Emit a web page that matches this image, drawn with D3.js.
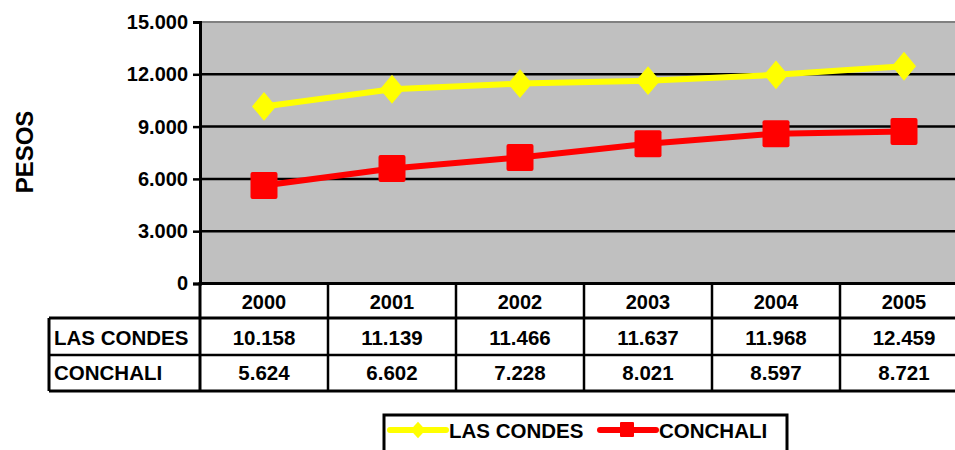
<!DOCTYPE html>
<html>
<head>
<meta charset="utf-8">
<script src="https://cdn.jsdelivr.net/npm/d3@7"></script>
<style>
  body { margin: 0; background: #fff; overflow: hidden; }
  text { font-family: Arial, "Liberation Sans", sans-serif; font-weight: bold; fill: #000; }
</style>
</head>
<body>
<div id="chart"></div>
<script>
// data
var years = ["2000", "2001", "2002", "2003", "2004", "2005"];
var lasCondes = [10158, 11139, 11466, 11637, 11968, 12459];
var conchali = [5624, 6602, 7228, 8021, 8597, 8721];
var seriesNames = ["LAS CONDES", "CONCHALI"];
var yTicks = [0, 3000, 6000, 9000, 12000, 15000];

var width = 955, height = 450;
var plotLeft = 200, plotRight = 968, plotTop = 22, plotBottom = 283.5;

var es = d3.formatLocale({decimal: ",", thousands: ".", grouping: [3], currency: ["$", ""]});
var fmt = es.format(",d");

var svg = d3.select("#chart").append("svg")
    .attr("width", width)
    .attr("height", height);

var x = d3.scaleBand().domain(years).range([plotLeft, plotRight]).padding(0);
var y = d3.scaleLinear().domain([0, 15000]).range([plotBottom, plotTop]);

// plot background
svg.append("rect")
    .attr("x", plotLeft).attr("y", plotTop)
    .attr("width", plotRight - plotLeft).attr("height", plotBottom - plotTop)
    .style("fill", "#c0c0c0")
    .style("stroke", "#808080")
    .style("stroke-width", 2);

// gridlines
svg.selectAll(".grid")
  .data(yTicks.filter(function(d) { return d > 0 && d < 15000; }))
  .enter().append("line")
    .attr("x1", plotLeft).attr("x2", plotRight)
    .attr("y1", function(d) { return y(d); })
    .attr("y2", function(d) { return y(d); })
    .style("stroke", "#000")
    .style("stroke-width", 2.5);

// y axis
var yAxis = svg.append("g")
    .attr("transform", "translate(" + plotLeft + ",0)")
    .call(d3.axisLeft(y).tickValues(yTicks).tickFormat(fmt).tickSize(7).tickPadding(5));
yAxis.select(".domain").style("stroke", "#000").style("stroke-width", 3);
yAxis.selectAll(".tick line").style("stroke", "#000").style("stroke-width", 2.5);
yAxis.selectAll(".tick text")
    .style("font-size", "20px")
    .style("font-family", "Arial, 'Liberation Sans', sans-serif")
    .style("font-weight", "bold")
    .attr("fill", "#000");

// y axis title
svg.append("text")
    .attr("transform", "translate(33,152) rotate(-90)")
    .attr("text-anchor", "middle")
    .style("font-size", "24px")
    .text("PESOS");

// lines
var line = d3.line()
    .x(function(d, i) { return x(years[i]) + x.bandwidth() / 2; })
    .y(function(d) { return y(d); });

svg.append("path")
    .datum(lasCondes)
    .attr("d", line)
    .style("fill", "none")
    .style("stroke", "#ffff00")
    .style("stroke-width", 6);

svg.append("path")
    .datum(conchali)
    .attr("d", line)
    .style("fill", "none")
    .style("stroke", "#ff0000")
    .style("stroke-width", 6);

// diamonds: squares turned by 45 degrees, a bit taller than wide
var diamond = d3.symbol().type(d3.symbolSquare).size(290);
svg.selectAll(".lc")
  .data(lasCondes)
  .enter().append("path")
    .attr("d", diamond)
    .attr("transform", function(d, i) {
      return "translate(" + (x(years[i]) + x.bandwidth() / 2) + "," + y(d) + ") scale(1,1.2) rotate(45)";
    })
    .style("fill", "#ffff00");

svg.selectAll(".co")
  .data(conchali)
  .enter().append("rect")
    .attr("x", function(d, i) { return x(years[i]) + x.bandwidth() / 2 - 13.5; })
    .attr("y", function(d) { return y(d) - 13.5; })
    .attr("width", 27).attr("height", 27)
    .attr("rx", 2)
    .style("fill", "#ff0000");

// data table
var rowTop = [283.5, 318, 355, 391];
var labelLeft = 49;
var tbl = svg.append("g");

tbl.selectAll(".hdr")
  .data(years)
  .enter().append("text")
    .attr("x", function(d) { return x(d) + x.bandwidth() / 2; })
    .attr("y", 309)
    .attr("text-anchor", "middle")
    .style("font-size", "20px")
    .text(function(d) { return d; });

var rows = [lasCondes, conchali];
var rowBase = [345, 380];
rows.forEach(function(vals, r) {
  tbl.append("text")
      .attr("x", labelLeft + 5)
      .attr("y", rowBase[r])
      .style("font-size", "20.5px")
      .text(seriesNames[r]);
  tbl.selectAll(".v" + r)
    .data(vals)
    .enter().append("text")
      .attr("x", function(d, i) { return x(years[i]) + x.bandwidth() / 2; })
      .attr("y", rowBase[r])
      .attr("text-anchor", "middle")
      .style("font-size", "20.5px")
      .text(function(d) { return fmt(d); });
});

// table borders
function hline(x1, x2, yy, w) {
  tbl.append("line").attr("x1", x1).attr("x2", x2).attr("y1", yy).attr("y2", yy)
    .style("stroke", "#000").style("stroke-width", w);
}
function vline(xx, y1, y2, w) {
  tbl.append("line").attr("x1", xx).attr("x2", xx).attr("y1", y1).attr("y2", y2)
    .style("stroke", "#000").style("stroke-width", w);
}
hline(plotLeft - 1.5, plotRight, rowTop[0], 3);
hline(labelLeft, plotRight, rowTop[1], 3);
hline(labelLeft, plotRight, rowTop[2], 2.5);
hline(labelLeft, plotRight, rowTop[3], 3);
vline(labelLeft, rowTop[1], rowTop[3], 3);
vline(plotLeft, rowTop[0], rowTop[3], 3);
years.forEach(function(d, i) {
  if (i > 0) vline(x(d), rowTop[0], rowTop[3], 2.5);
});

// legend
var lg = svg.append("g");
lg.append("rect")
    .attr("x", 384).attr("y", 415)
    .attr("width", 403).attr("height", 45)
    .style("fill", "#fff")
    .style("stroke", "#000")
    .style("stroke-width", 3);

lg.append("line")
    .attr("x1", 390).attr("x2", 446).attr("y1", 430).attr("y2", 430)
    .style("stroke", "#ffff00").style("stroke-width", 6).style("stroke-linecap", "round");
lg.append("path")
    .attr("d", d3.symbol().type(d3.symbolSquare).size(115))
    .attr("transform", "translate(418,430) scale(1,1.1) rotate(45)")
    .style("fill", "#ffff00");
lg.append("text")
    .attr("x", 449).attr("y", 438)
    .style("font-size", "20.5px")
    .text(seriesNames[0]);

lg.append("line")
    .attr("x1", 600).attr("x2", 656).attr("y1", 430).attr("y2", 430)
    .style("stroke", "#ff0000").style("stroke-width", 6).style("stroke-linecap", "round");
lg.append("rect")
    .attr("x", 620).attr("y", 422).attr("width", 14).attr("height", 15).attr("rx", 1)
    .style("fill", "#ff0000");
lg.append("text")
    .attr("x", 659).attr("y", 438)
    .style("font-size", "20.5px")
    .text(seriesNames[1]);
</script>
</body>
</html>
